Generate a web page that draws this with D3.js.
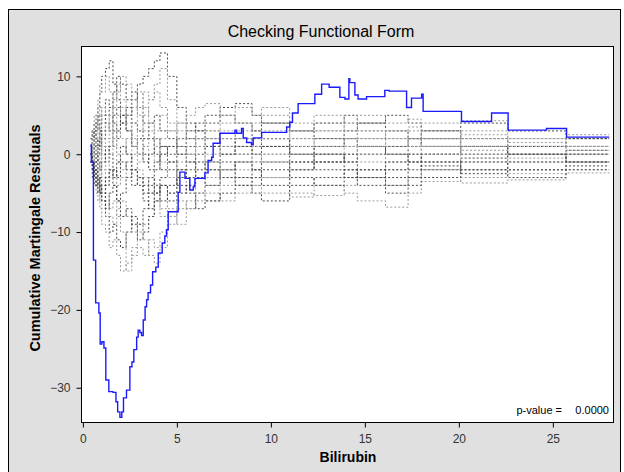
<!DOCTYPE html>
<html>
<head>
<meta charset="utf-8">
<script src="https://cdn.jsdelivr.net/npm/d3@7"></script>
<style>
  body { margin: 0; background: #fff; }
  text { font-family: "Liberation Sans", Arial, sans-serif; }
</style>
</head>
<body>
<div id="chart"></div>
<script>
// observed cumulative martingale residuals (step positions in bilirubin, value after step)
var obsX = [0.40, 0.45, 0.56, 0.68, 0.85, 0.92, 1.01, 1.12, 1.22, 1.38, 1.60, 1.76, 1.85, 1.97,
  2.07, 2.16, 2.32, 2.50, 2.61, 2.71, 2.86, 2.94, 3.03, 3.12, 3.21, 3.31, 3.39, 3.47, 3.60,
  3.71, 3.88, 4.01, 4.22, 4.36, 4.45, 4.54, 5.07, 5.16, 5.43, 5.69, 5.87, 5.96, 6.49, 6.66,
  6.85, 6.93, 7.29, 8.09, 8.18, 8.44, 8.53, 8.71, 8.97, 9.06, 9.51, 10.84, 11.01, 11.15,
  11.45, 12.34, 12.70, 13.10, 13.67, 13.94, 14.15, 14.20, 14.47, 14.64, 15.09, 16.06, 16.29,
  17.22, 17.48, 18.02, 18.10, 20.14, 21.74, 22.62, 24.66, 25.73, 28.0];
var obsY = [1.2, -1.0, -13.6, -19.1, -20.4, -24.4, -24.1, -24.9, -29.0, -30.5, -30.6, -31.8, -33.1, -33.8,
  -33.1, -31.3, -30.3, -27.3, -26.7, -25.1, -23.5, -22.6, -22.9, -23.3, -21.3, -19.6, -18.7, -17.8, -16.8,
  -15.1, -14.5, -12.7, -11.4, -10.5, -9.7, -7.4, -4.9, -2.3, -3.1, -4.6, -4.2, -3.1, -2.4, -0.8,
  -0.4, 1.4, 2.7, 3.1, 2.7, 3.3, 2.1, 1.5, 1.2, 2.1, 2.8, 3.5, 4.1, 5.3,
  6.5, 7.7, 9.0, 8.6, 7.3, 7.1, 9.7, 9.2, 7.6, 7.1, 7.4, 8.2, 8.1,
  6.0, 7.2, 7.7, 5.5, 4.2, 5.3, 3.1, 3.3, 2.2, 2.2];

// simulated paths, shared step positions
var simX = [0.4, 0.5, 0.6, 0.7, 0.8, 0.9, 1.0, 1.2, 1.4, 1.6, 1.8, 2.0, 2.3, 2.6, 2.9, 3.2, 3.5, 3.8,
  4.1, 4.5, 5.0, 5.5, 6.0, 6.5, 7.3, 8.1, 9.0, 9.5, 11.0, 12.3, 13.9, 14.6, 16.1, 17.3, 18.0,
  20.1, 22.6, 25.7, 28.0];
var sim1 = [0, 2, 4, 3, 6, 8, 10, 11, 12, 9, 7, 5, 3, 1, 2, 0, -2, -1, 1, 0, 2, 3, 4, 5, 6, 6.5, 5, 4, 3, 4, 5, 4, 3, 2, 3, 2, 1, 1, 1];
var sim2 = [1, -1, -3, -5, -4, -7, -9, -10, -12, -11, -13, -15, -14, -12, -10, -9, -8, -6, -7, -5, -3, -4, -5, -3, -2, -1, -2, -3, -2, -1, 0, -1, -2, -1, 0, -1, -0.5, 0, 0];
var sim3 = [2, 3, 1, 2, 0, 1, 3, 5, 6, 8, 10, 9, 7, 8, 6, 4, 2, 0, -2, -1, 0, 1, 2, 1, 0, 2, 3, 2, 1, 0, -1, 0, 1, 2, 1, 0, 1, 2, 2];
var sim4 = [0, -2, -1, -3, -2, -1, -3, -5, -7, -6, -8, -10, -15, -13, -12, -13, -11, -12, -10, -8, -7, -6, -5, -6, -4, -3, -4, -5, -5.5, -4, -5, -6, -6.8, -5, -3.5, -3, -2.5, -2, -2];
var sim5 = [1, 3, 2, 4, 5, 3, 2, 4, 3, 5, 6, 4, 5, 7, 9, 10, 11, 12, 13, 10, 6, 4, 3, 2, 1, 0, 1, 2, 0, -1, 0, 1, 0, -1, 0, 1, 0, -1, -1];
var sim6 = [-1, 0, -2, -4, -6, -5, -7, -6, -8, -9, -7, -6, -8, -10, -9, -11, -13, -14, -12, -9, -6, -7, -5, -4, -3, -2, -1, 0, 1, 2, 1, 0, -1, 0, 1, 0, -1, 0, 0];
var sim7 = [0, 1, 3, 2, 1, 3, 5, 7, 6, 4, 3, 5, 6, 4, 3, 2, 4, 5, 3, 2, 1, 2, 3, 4, 5, 4, 3, 4, 3, 2, 3, 4, 5, 4, 3, 4, 3, 2, 2];
var sim8 = [-1, -2, -1, 0, -2, -3, -2, -4, -3, -2, -4, -3, -1, 0, -2, -3, -5, -6, -8, -7, -9, -7, -6, -5, -6, -5, -4, -3, -5, -5.3, -4, -3, -4, -3, -2, -3.7, -3.3, -2.4, -2.4];
var sim9 = [0, 1, 0, -1, 1, 2, 0, -1, 1, 3, 2, 4, 3, 1, 0, -1, 0, 2, 1, -1, -2, -3, -2, -1, 0, 1, 2, 1, 0, 1, 2, 1, 0, 1, 2, 1, 0, -1, -1];
var sim10 = [1, 0, 2, 3, 5, 6, 4, 3, 5, 7, 8, 10, 9, 7, 5, 3, 4, 2, 0, 1, 3, 5, 6, 6.5, 5, 4, 3, 2, 3, 5, 4, 5, 4, 4.5, 4, 4.3, 3, 2.5, 2.5];
var sim11 = [0, -1, -3, -2, -4, -3, -5, -7, -5, -4, -6, -8, -7, -9, -11, -10, -8, -6, -4, -5, -3, -2, -1, -2, -3, -4, -3, -2, -1, -2, -3, -2, -3, -2, -1, -2, -1, 0, 0];
var sim12 = [0, 2, 1, 3, 2, 4, 6, 5, 3, 2, 0, -2, -1, 1, 3, 5, 7, 8, 6, 4, 2, 0, -1, 0, 1, 0, -1, 0, 2, 3, 4, 3, 2, 3, 2, 3, 2, 1, 1];
var sim13 = [-1, -3, -2, -4, -3, -5, -4, -3, -2, -4, -6, -5, -3, -2, -4, -6, -7, -5, -3, -2, -4, -5, -7, -6, -5, -4, -5, -6, -4, -3, -2, -3, -2, -1, -2, -1, -2, -1, -1];
var sim14 = [1, 2, 4, 5, 3, 2, 1, 0, 2, 1, 3, 2, 0, -2, -1, 1, 0, -1, 2, 3, 4, 3, 2, 3, 4, 6, 5, 6, 4, 3, 2, 1, 2, 1, 0, 1, 2, 1, 1];
var sim15 = [0, -1, 1, 0, -1, -2, -1, 1, 0, -2, -3, -1, -2, -4, -3, -5, -4, -2, 0, 1, 0, -1, -3, -4, -2, -1, -2, -1, -3, -4, -3, -4, -5, -4, -3, -2, -3, -2, -2];
var sim16 = [0, 1, -1, 0, 2, 1, -1, -2, 0, 1, -1, 0, 2, 4, 6, 8, 7, 9, 11, 7, 4, 2, 1, -1, -2, -1, 0, -1, -2, 0, 1, 2, 3, 2, 1, 2, 1, 0, 0];
var sim17 = [0, -1, -2, -1, -3, -5, -6, -8, -10, -9, -11, -12, -10, -8, -9, -7, -5, -4, -6, -4, -2, -1, 0, 1, 2, 1, 0, 1, -1, 0, -1, -2, -1, 0, -1, -0.5, 0, 0.5, 0.5];
var sim18 = [1, 3, 5, 4, 7, 9, 8, 10, 8, 6, 9, 7, 5, 6, 8, 6, 4, 3, 5, 3, 1, 0, 1, 2, 3, 2, 1, 3, 2, 1, 2, 3, 1, 2, 1, 0.5, 1, 0.5, 0.5];
var sim19 = [-1, -2, -4, -3, -5, -4, -6, -4, -2, -3, -1, 1, 0, -2, -3, -4, -3, -5, -4, -6, -5, -4, -3, -2, -1, -3, -2, -4, -2, -1, -2, -3, -4, -3, -1.5, -2.5, -2, -1.5, -1.5];
var sim20 = [0, 1, 2, 1, 0, -1, 1, 2, 4, 3, 5, 6, 4, 2, 0, 1, 3, 1, -1, -3, -1, 0, 2, 3, 2, 3, 4, 5, 3, 4, 3, 2, 3, 3.5, 2, 2.5, 1.5, 1, 1];
var simPaths = [sim1, sim2, sim3, sim4, sim5, sim6, sim7, sim8, sim9, sim10,
  sim11, sim12, sim13, sim14, sim15, sim16, sim17, sim18, sim19, sim20];

var xTicks = [0, 5, 10, 15, 20, 25];
var yTicks = [-30, -20, -10, 0, 10];

var width = 624, height = 472;
var plot = { left: 81, top: 46, right: 613, bottom: 422 };

var svg = d3.select("#chart").append("svg")
  .attr("width", width)
  .attr("height", height);

// grey panel with frame
svg.append("rect")
  .attr("x", 8.5).attr("y", 9.5)
  .attr("width", 612).attr("height", 475)
  .attr("fill", "#e0e0e0")
  .attr("stroke", "#000");

svg.append("text")
  .attr("x", 321).attr("y", 37)
  .attr("text-anchor", "middle")
  .style("font-size", "16px")
  .attr("fill", "#000")
  .text("Checking Functional Form");

svg.append("rect")
  .attr("x", plot.left + 0.5).attr("y", plot.top + 0.5)
  .attr("width", plot.right - plot.left).attr("height", plot.bottom - plot.top)
  .attr("fill", "#fff")
  .attr("stroke", "#000");

var x = d3.scaleLinear().domain([-0.1, 28.2]).range([plot.left, plot.right]);
var y = d3.scaleLinear().domain([-34.4, 13.9]).range([plot.bottom, plot.top]);

var line = d3.line()
  .x(function(d) { return x(d[0]); })
  .y(function(d) { return y(d[1]); })
  .curve(d3.curveStepAfter);

var g = svg.append("g");

simPaths.forEach(function(p, i) {
  g.append("path")
    .datum(simX.map(function(v, j) { return [v, p[j]]; }))
    .attr("fill", "none")
    .attr("stroke", i % 2 ? "#9a9a9a" : "#4a4a4a")
    .attr("stroke-width", 1)
    .attr("stroke-dasharray", "2,2")
    .attr("d", line);
});

g.append("path")
  .datum(obsX.map(function(v, j) { return [v, obsY[j]]; }))
  .attr("fill", "none")
  .attr("stroke", "#1a1aff")
  .attr("stroke-width", 1.4)
  .attr("d", line);

var xAxis = svg.append("g")
  .attr("transform", "translate(0," + (plot.bottom + 0.5) + ")")
  .call(d3.axisBottom(x).tickValues(xTicks).tickSize(5).tickPadding(7));
var yAxis = svg.append("g")
  .attr("transform", "translate(" + (plot.left + 0.5) + ",0)")
  .call(d3.axisLeft(y).tickValues(yTicks).tickSize(5).tickPadding(6));

[xAxis, yAxis].forEach(function(a) {
  a.select(".domain").remove();
  a.selectAll("line").attr("stroke", "#000");
  a.selectAll("text")
    .attr("fill", "#333")
    .style("font-size", "12px")
    .style("font-family", "'Liberation Sans', Arial, sans-serif");
});

svg.append("text")
  .attr("x", 348).attr("y", 462)
  .attr("text-anchor", "middle")
  .style("font-size", "14px")
  .style("font-weight", "bold")
  .text("Bilirubin");

svg.append("text")
  .attr("transform", "translate(40," + 238 + ") rotate(-90)")
  .attr("text-anchor", "middle")
  .style("font-size", "14.5px")
  .style("font-weight", "bold")
  .text("Cumulative Martingale Residuals");

svg.append("text")
  .attr("x", 562).attr("y", 414)
  .attr("text-anchor", "end")
  .style("font-size", "11px")
  .text("p-value =");
svg.append("text")
  .attr("x", 609).attr("y", 414)
  .attr("text-anchor", "end")
  .style("font-size", "11px")
  .text("0.0000");
</script>
</body>
</html>
